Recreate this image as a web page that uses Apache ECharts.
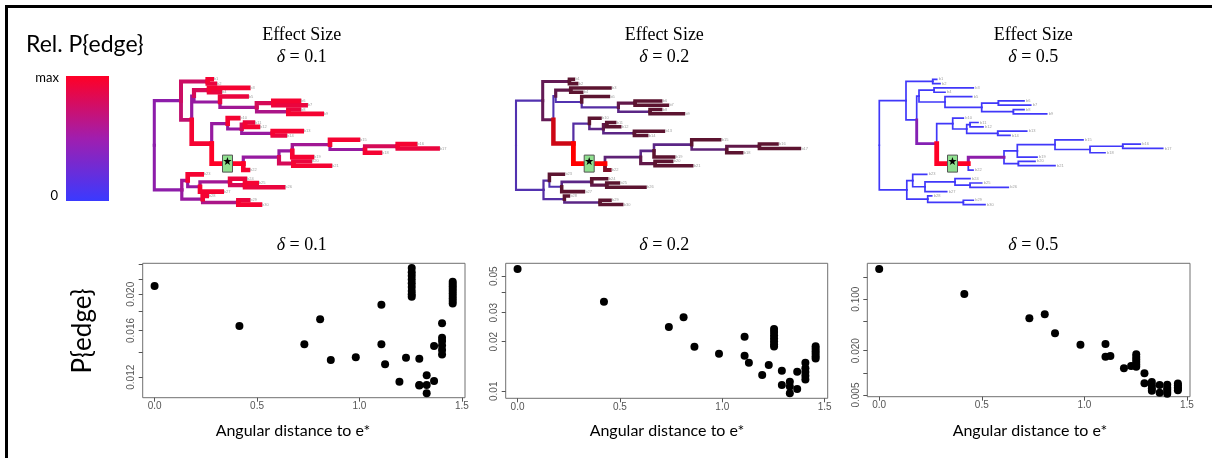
<!DOCTYPE html>
<html><head><meta charset="utf-8">
<script src="https://cdn.jsdelivr.net/npm/echarts@6/dist/echarts.min.js"></script>
<style>html,body{margin:0;padding:0;background:#fff}#c{width:1212px;height:458px}</style>
</head><body><div id="c"></div>
<script>
// ================= DATA =================
// Tree topology (Newick, branch lengths in tree units)
const treeNewick = "(((b1:4,b2:7.3)A1:26.7,(((b3:39.3,b4:11)c1:15,(b5:26.7,((b6:25.7,b7:32.4)n2:16.6,(b8:10.7,b9:33.4)n3:31.6)n1:36.7)c2:26)A2a:2.3,((b10:10.6,((b11:8,b12:13)Z:3.3,(b13:29,b14:12.3)W:31)Y:14)X:16,((((b15:28,((b16:17.6,b17:40)J:32.7,b18:15)I:35)H:37.7,b19:19.7)G:13.3,(b20:16.7,b21:36.7)K:14.3)F:35.7,b22:4.7)E:31.6)A2b:20)A2:10.7)A:26.7,((b23:14,((b24:15,(b25:11.7,b26:38.3)Q:15)P:30,b27:21.7)B1b:12.3)B1:5.9,(b28:4,(b29:10,b30:21.7)T:35.6)B2:20.9)B:27.5)root;";
const eStarEdge = "E";

// Relative P{edge} per edge, in pre-order of edges:
// A A1 b1 b2 | A2 A2a c1 b3 b4 c2 b5 n1 n2 b6 b7 n3 b8 b9 | A2b X b10 Y Z b11 b12 W b13 b14 |
// E F G H b15 I J b16 b17 b18 b19 K b20 b21 b22 | B B1 b23 B1b P b24 Q b25 b26 b27 B2 b28 T b29 b30
const relP_d01 = [0.45,0.75,0.95,0.9, 0.7,0.5,0.8,0.95,0.9,0.5,0.9,0.55,0.8,0.95,0.9,0.6,0.9,0.95,
  0.95,0.5,0.95,0.5,0.8,0.9,0.95,0.5,0.95,0.9,
  1.0,0.5,0.5,0.55,0.95,0.5,0.8,0.95,0.9,0.95,0.95,0.8,0.9,0.95,0.95,
  0.45,0.55,0.95,0.5,0.55,0.9,0.8,0.95,0.9,0.95,0.5,0.95,0.6,0.9,0.95];
const relP_d02 = [0.15,0.45,0.6,0.6, 0.45,0.15,0.5,0.6,0.6,0.15,0.6,0.2,0.5,0.6,0.6,0.3,0.6,0.6,
  0.9,0.2,0.6,0.3,0.5,0.6,0.6,0.3,0.6,0.6,
  1.0,0.35,0.3,0.3,0.6,0.35,0.5,0.6,0.6,0.6,0.6,0.5,0.6,0.6,0.7,
  0.15,0.2,0.6,0.15,0.3,0.6,0.5,0.6,0.6,0.6,0.2,0.6,0.3,0.6,0.6];
const relP_d05 = [0.03,0.03,0.03,0.03, 0.03,0.03,0.03,0.03,0.03,0.03,0.03,0.03,0.03,0.03,0.03,0.03,0.03,0.03,
  0.4,0.03,0.03,0.03,0.03,0.03,0.03,0.03,0.03,0.03,
  1.0,0.45,0.03,0.03,0.03,0.03,0.03,0.03,0.03,0.03,0.03,0.03,0.03,0.03,0.05,
  0.03,0.03,0.03,0.03,0.03,0.03,0.03,0.03,0.03,0.03,0.03,0.03,0.03,0.03,0.03];

const deltaLabels = ["0.1","0.2","0.5"];

// Scatter: angular distance to e* vs P{edge}
const dist_d01 = [0.00,0.414,0.731,0.808,0.860,0.982,1.107,1.107,1.125,1.195,1.227,
  1.255,1.255,1.255,1.255,1.255,1.255,1.255,1.255,1.255,
  1.292,1.292,1.292, 1.328,1.328,1.328, 1.364,1.364,
  1.403,1.403,1.403,1.403,1.403,1.403,
  1.455,1.455,1.455,1.455,1.455,1.455,1.455,1.455,1.455,1.455];
const pedge_d01 = [0.02105,0.01645,0.0147,0.01714,0.01334,0.01357,0.01876,0.0147,0.0130,0.01167,0.01353,
  0.0235,0.0229,0.0224,0.0219,0.0214,0.0209,0.0204,0.0200,0.0197,
  0.01345,0.01144,0.01140, 0.01214,0.01144,0.01087, 0.01172,0.01455,
  0.01673,0.0153,0.0150,0.0146,0.0142,0.0138,
  0.0216,0.0213,0.0210,0.0207,0.0204,0.0201,0.0198,0.0195,0.0192,0.0189];

const dist_d02 = [0.0,0.422,0.739,0.811,0.864,0.984,1.109,1.109,1.130,1.195,1.227,
  1.253,1.253,1.253,1.253,1.253,1.253,1.253,
  1.291,1.291, 1.330,1.330,1.330, 1.366,1.366,
  1.406,1.406,1.406,1.406,1.406,
  1.456,1.456,1.456,1.456,1.456,1.456];
const pedge_d02 = [0.0553,0.0350,0.02456,0.02813,0.01865,0.01691,0.02145,0.01644,0.0149,0.01255,0.01444,
  0.0239,0.0229,0.0219,0.0210,0.0201,0.0193,0.0187,
  0.01333,0.01091, 0.01143,0.0107,0.00972, 0.01315,0.01032,
  0.0149,0.0138,0.0131,0.0124,0.0118,
  0.0188,0.0181,0.0175,0.0169,0.0163,0.0158];

const dist_d05 = [0.0,0.415,0.732,0.807,0.857,0.981,1.103,1.103,1.127,1.193,1.228,
  1.253,1.253,1.253,1.253,1.253,1.253,
  1.293,1.293, 1.329,1.329,1.329,1.329, 1.367,1.367,
  1.404,1.404,1.404,1.404,1.404,
  1.456,1.456,1.456,1.456,1.456];
const pedge_d05 = [0.257,0.1177,0.0550,0.0624,0.0344,0.0241,0.0247,0.01658,0.0169,0.01154,0.0124,
  0.0179,0.0164,0.0152,0.0140,0.0130,0.0121,
  0.00987,0.00722, 0.0075,0.0068,0.0062,0.0057, 0.00685,0.00538,
  0.0069,0.0063,0.0059,0.0055,0.0052,
  0.0072,0.0068,0.0064,0.0061,0.0058];

const xTicks = [0, 0.5, 1.0, 1.5];
const yTicks_d01 = [0.012,0.014,0.016,0.018,0.020,0.022,0.024];
const yLabels_d01 = ["0.012","0.016","0.020"];
const yTicks_d02 = [0.01,0.02,0.03,0.04,0.05];
const yLabels_d02 = ["0.01","0.02","0.03","0.05"];
const yTicks_d05 = [0.005,0.01,0.02,0.05,0.1,0.2];
const yLabels_d05 = ["0.005","0.020","0.100"];

// ================= LAYOUT / STYLE =================
const treeRootX = [154.3, 516, 879.3];
const scatterBoxes = [
  {left:142.7, top:263.3, width:322.3, height:134.4},
  {left:505.7, top:263.3, width:322.0, height:135.0},
  {left:867.3, top:263.3, width:322.7, height:133.4}
];
const yRanges = [[0.01058,0.0242],[0.00906,0.0599],[0.00475,0.307]];
const titleCenters = [301.7, 664.3, 1033.3];
const xNameCenters = [293, 667, 1030];

const rampMain = [[0,[58,58,255]],[0.5,[150,26,160]],[1,[255,0,38]]];
const rampDark = [[0,[74,63,214]],[0.25,[88,42,150]],[0.45,[100,26,85]],[0.6,[92,20,48]],[0.85,[180,10,32]],[1,[255,0,0]]];
const panelRamps = [rampMain, rampDark, rampMain];

function rampColor(ramp, v){
  v = Math.max(0, Math.min(1, v));
  for (let i=1;i<ramp.length;i++){
    if (v <= ramp[i][0]){
      const a = ramp[i-1], b = ramp[i];
      const t = (v - a[0]) / (b[0] - a[0]);
      const c = a[1].map((x,k)=>Math.round(x + (b[1][k]-x)*t));
      return 'rgb('+c.join(',')+')';
    }
  }
  return 'rgb('+ramp[ramp.length-1][1].join(',')+')';
}
function edgeWidth(v){ return 1.6 + 3.2*v; }

// ---- Newick parse + layout ----
function parseNewick(str){
  const s = str.replace(/\s+/g,'');
  let i = 0;
  function node(){
    const n = {children:[], name:'', len:0};
    if (s[i] === '('){
      i++; n.children.push(node());
      while (s[i] === ','){ i++; n.children.push(node()); }
      i++;
    }
    let name=''; while (i<s.length && !',():;'.includes(s[i])) name += s[i++];
    n.name = name;
    if (s[i] === ':'){ i++; let num=''; while (i<s.length && !',();'.includes(s[i])) num += s[i++]; n.len = parseFloat(num); }
    return n;
  }
  return node();
}
const tree = parseNewick(treeNewick);
let leafCounter = 0;
(function layout(n, depth){
  n.x = depth;
  if (!n.children.length){ n.y = leafCounter++; return; }
  n.children.forEach(c => layout(c, depth + c.len));
  n.y = (n.children[0].y + n.children[n.children.length-1].y) / 2;
})(tree, 0);
const nLeaves = leafCounter;
const edges = [];
(function collect(n){ n.children.forEach(c => { edges.push({p:n, c:c}); collect(c); }); })(tree);

const relPs = [relP_d01, relP_d02, relP_d05];
const dists = [dist_d01, dist_d02, dist_d05];
const pedges = [pedge_d01, pedge_d02, pedge_d05];
const yTicksAll = [yTicks_d01, yTicks_d02, yTicks_d05];
const yLabelsAll = [yLabels_d01, yLabels_d02, yLabels_d05];

const FONT_SANS = "Lato, 'Open Sans', sans-serif";
const FONT_SERIF = "'Liberation Serif', 'DejaVu Serif', serif";
const FONT_AX = "'Liberation Sans', Arial, sans-serif";

const grids = [], xAxes = [], yAxes = [], series = [];
const leafSpacing = 4.32, leafTop = 79.3;

for (let k=0;k<3;k++){
  // tree grid
  const gT = grids.length;
  grids.push({left: treeRootX[k], top: leafTop, width: 300, height: leafSpacing*(nLeaves-1), show:false});
  xAxes.push({type:'value', gridIndex:gT, min:0, max:300, show:false});
  yAxes.push({type:'value', gridIndex:gT, min:0, max:nLeaves-1, inverse:true, show:false});
  const vals = relPs[k], ramp = panelRamps[k];
  const edgeData = edges.map((e,i)=>({value:[e.p.x, e.c.x, e.p.y, e.c.y, vals[i]], name:e.c.name, leaf: !e.c.children.length}));
  const ordered = edgeData.slice().sort((a,b)=>a.value[4]-b.value[4]);
  series.push({
    type:'custom', xAxisIndex:gT, yAxisIndex:gT, silent:true, animation:false, clip:false,
    data: ordered,
    renderItem: (params, api) => {
      const d = ordered[params.dataIndex];
      const v = d.value;
      const p0 = api.coord([v[0], v[2]]), p1 = api.coord([v[0], v[3]]), p2 = api.coord([v[1], v[3]]);
      const kids = [{type:'polyline', shape:{points:[p0,p1,p2]},
        style:{stroke: rampColor(ramp, v[4]), lineWidth: edgeWidth(v[4]), fill:null, lineCap:'square', lineJoin:'miter'}}];
      if (d.leaf){
        kids.push({type:'text', style:{text:d.name, x:p2[0]+2, y:p2[1], fontSize:4, fill:'#a0a0a0', verticalAlign:'middle', fontFamily:FONT_AX}});
      }
      return {type:'group', children:kids};
    }
  });
  // e* marker
  const eE = edges.find(e=>e.c.name===eStarEdge);
  series.push({
    type:'custom', xAxisIndex:gT, yAxisIndex:gT, silent:true, animation:false, clip:false, z:5,
    data:[[ (eE.p.x+eE.c.x)/2, eE.c.y ]],
    renderItem: (params, api) => {
      const c = api.coord([api.value(0), api.value(1)]);
      return {type:'group', children:[
        {type:'rect', shape:{x:c[0]-5, y:c[1]-8.5, width:10, height:17}, style:{fill:'#8fe08f', stroke:'#555', lineWidth:1}},
        {type:'text', style:{text:'★', x:c[0], y:c[1]-1, fontSize:11, fill:'#000', align:'center', verticalAlign:'middle', fontFamily:"'DejaVu Sans'"}}
      ]};
    }
  });

  // scatter grid
  const gS = grids.length;
  grids.push(Object.assign({show:true, borderColor:'#707070', borderWidth:1, backgroundColor:'transparent'}, scatterBoxes[k]));
  xAxes.push({type:'value', gridIndex:gS, min:-0.058, max:1.515,
    axisLine:{show:false, onZero:false}, splitLine:{show:false},
    axisTick:{show:true, inside:false, length:4, lineStyle:{color:'#555'}, customValues:xTicks},
    axisLabel:{show:true, margin:4, color:'#555', fontSize:10, fontFamily:FONT_AX, customValues:xTicks, formatter:v=>(+v).toFixed(1)}});
  const labs = yLabelsAll[k];
  const labVals = labs.map(l=>Math.log10(parseFloat(l)));
  yAxes.push({type:'value', gridIndex:gS, min:Math.log10(yRanges[k][0]), max:Math.log10(yRanges[k][1]),
    axisLine:{show:false, onZero:false}, splitLine:{show:false},
    axisTick:{show:true, inside:false, length:4, lineStyle:{color:'#555'}, customValues:yTicksAll[k].map(Math.log10)},
    axisLabel:{show:true, rotate:90, margin:6, color:'#555', fontSize:10, fontFamily:FONT_AX, customValues:labVals,
      formatter: v => { let bi=0; labVals.forEach((lv,i)=>{ if (Math.abs(lv-v)<Math.abs(labVals[bi]-v)) bi=i; }); return labs[bi]; }}});
  series.push({type:'scatter', xAxisIndex:gS, yAxisIndex:gS, symbol:'circle', symbolSize:8, silent:true, animation:false,
    itemStyle:{color:'#000', opacity:1},
    data: dists[k].map((d,i)=>[d, Math.log10(pedges[k][i])])});
}

const graphics = [
  {type:'rect', shape:{x:5, y:5, width:1207, height:3}, style:{fill:'#000'}},
  {type:'rect', shape:{x:5, y:5, width:3, height:453}, style:{fill:'#000'}},
  {type:'text', style:{text:'Rel. P{edge}', x:26, y:45, fontSize:23, fontFamily:FONT_SANS, fill:'#000', verticalAlign:'middle'}},
  {type:'rect', shape:{x:66, y:76, width:43, height:125},
    style:{fill:new echarts.graphic.LinearGradient(0,0,0,1,[
      {offset:0, color:'rgb(255,0,38)'},{offset:0.5, color:'rgb(160,30,175)'},{offset:1, color:'rgb(58,58,255)'}])}},
  {type:'text', style:{text:'max', x:59, y:78, fontSize:13, fontFamily:FONT_SANS, fill:'#000', align:'right', verticalAlign:'middle'}},
  {type:'text', style:{text:'0', x:58, y:196, fontSize:13, fontFamily:FONT_SANS, fill:'#000', align:'right', verticalAlign:'middle'}},
  {type:'text', rotation:Math.PI/2, x:83, y:331, style:{text:'P{edge}', x:0, y:0, fontSize:26, fontFamily:FONT_SANS, fill:'#000', align:'center', verticalAlign:'middle'}}
];
for (let k=0;k<3;k++){
  graphics.push({type:'text', style:{text:'Effect Size', x:titleCenters[k], y:35, fontSize:18, fontFamily:FONT_SERIF, fill:'#000', align:'center', verticalAlign:'middle'}});
  graphics.push({type:'text', style:{text:'{i|δ} = '+deltaLabels[k], x:titleCenters[k], y:57, fontSize:18, fontFamily:FONT_SERIF, fill:'#000', align:'center', verticalAlign:'middle',
    rich:{i:{fontStyle:'italic', fontSize:18, fontFamily:FONT_SERIF}}}});
  graphics.push({type:'text', style:{text:'{i|δ} = '+deltaLabels[k], x:titleCenters[k], y:245, fontSize:18, fontFamily:FONT_SERIF, fill:'#000', align:'center', verticalAlign:'middle',
    rich:{i:{fontStyle:'italic', fontSize:18, fontFamily:FONT_SERIF}}}});
  graphics.push({type:'text', style:{text:'Angular distance to e*', x:xNameCenters[k], y:431, fontSize:16, fontFamily:FONT_SANS, fill:'#000', align:'center', verticalAlign:'middle'}});
}

const chart = echarts.init(document.getElementById('c'), null, {renderer:'canvas'});
chart.setOption({
  animation:false, backgroundColor:'#fff',
  grid: grids, xAxis: xAxes, yAxis: yAxes, series: series, graphic: graphics
});
</script></body></html>
